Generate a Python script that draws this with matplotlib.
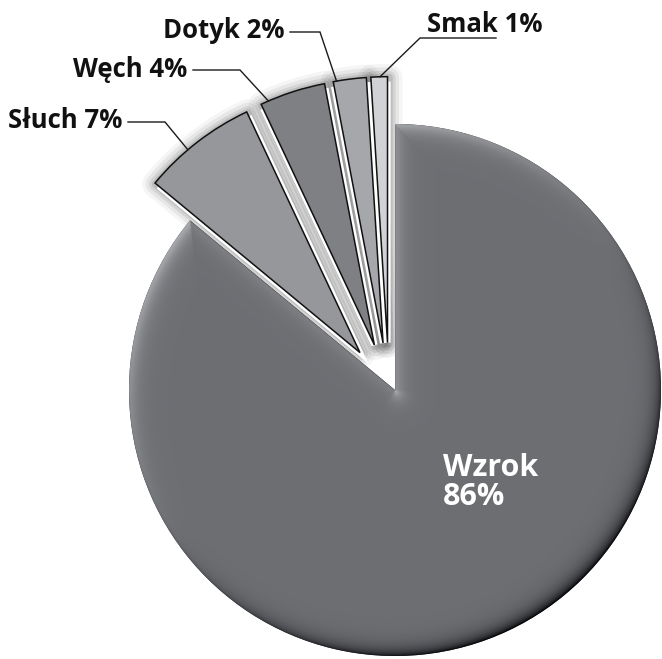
import numpy as np
import matplotlib
matplotlib.use("Agg")
import matplotlib.pyplot as plt
from matplotlib.patches import Wedge

# ---- data ----
labels = ["Wzrok", "Słuch", "Węch", "Dotyk", "Smak"]
values = [86, 7, 4, 2, 1]
colors = ["#6d6e72", "#96979b", "#7f8084", "#a6a7ab", "#d1d2d5"]

# ---- layout (pixels) ----
W, H = 662, 659
cx, cy, R = 395, 390, 266
explode_small = 0.178
shift_small = 6 / R

fig = plt.figure(figsize=(W / 100, H / 100), dpi=100)
ax = fig.add_axes([0, 0, 1, 1])

def px(x, y):
    return ((x - cx) / R, (cy - y) / R)

# main pie (Wzrok at origin)
wedges_main, _ = ax.pie(values, startangle=90, counterclock=False, radius=1,
                        colors=colors, wedgeprops=dict(linewidth=0))
for w in wedges_main[1:]:
    w.remove()
wz = wedges_main[0]
wz.set_facecolor("#2e2f31")
wz.set_zorder(2)

# exploded small slices
explode = [0] + [explode_small] * 4
wedges_small, _ = ax.pie(values, startangle=90, counterclock=False, radius=1,
                         explode=explode, center=(-shift_small, 0), colors=colors,
                         wedgeprops=dict(linewidth=1.1, edgecolor="#111111"))
wedges_small[0].remove()
small = wedges_small[1:]
for w in small:
    w.set_zorder(5)
    # soft shadow glow behind each slice, offset slightly down-right
    for lw, a in [(20, 0.04), (15, 0.06), (10, 0.08), (6, 0.10)]:
        g = Wedge((w.center[0] + 0.004, w.center[1] - 0.004), w.r, w.theta1, w.theta2,
                  facecolor="none", edgecolor=(0, 0, 0, a), linewidth=lw,
                  joinstyle="round", zorder=1)
        ax.add_patch(g)
for w in small:
    wh = Wedge(w.center, w.r * 0.97, w.theta1, w.theta2, facecolor="white",
               edgecolor="white", linewidth=4.5, joinstyle="miter", zorder=3)
    ax.add_patch(wh)

# ---- bevel shading image for Wzrok ----
xmin, xmax = -cx / R, (W - cx) / R
ymin, ymax = -(H - cy) / R, cy / R
nx, ny = 2 * W, 2 * H
xs = np.linspace(xmin, xmax, nx)
ys = np.linspace(ymax, ymin, ny)
X, Y = np.meshgrid(xs, ys)
r = np.hypot(X, Y) + 1e-9
t1, t2 = np.deg2rad(wz.theta1), np.deg2rad(wz.theta2)
d = 1 - r
nxm, nym = X / r, Y / r
for ang in (t1, t2):
    u = np.array([np.cos(ang), np.sin(ang)])
    tproj = X * u[0] + Y * u[1]
    n1 = np.array([u[1], -u[0]])
    side = X * n1[0] + Y * n1[1]
    dist_line = np.abs(side)
    nxl = np.where(side < 0, n1[0], -n1[0])
    nyl = np.where(side < 0, n1[1], -n1[1])
    dl = np.where(tproj >= 0, dist_line, r)
    nxl = np.where(tproj >= 0, nxl, -X / r)
    nyl = np.where(tproj >= 0, nyl, -Y / r)
    m = dl < d
    d = np.where(m, dl, d)
    nxm = np.where(m, nxl, nxm)
    nym = np.where(m, nyl, nym)

L = np.array([-0.55, 0.83])
L = L / np.hypot(*L)
s = nxm * L[0] + nym * L[1]
dd = np.clip(d, 0, None)
f = np.exp(-dd / 0.03)
base = 0.43
amp = np.where(s > 0, 0.30, 0.38)
val = base + s * amp * f
# thin darker rim at the very edge
val = val - 0.06 * np.exp(-dd / 0.004)
val = np.clip(val, 0, 1)
rgb = np.dstack([val, val + 0.004, val + 0.02])
rgb = np.clip(rgb, 0, 1)
im = ax.imshow(rgb, extent=(xmin, xmax, ymin, ymax), zorder=2.5,
               interpolation="bilinear", aspect="auto")
im.set_clip_path(wz)

# ---- labels ----
font = dict(family=["Open Sans", "DejaVu Sans"], fontweight="bold")
label_pos = {"Słuch": (8, 128), "Węch": (73, 77), "Dotyk": (163, 38), "Smak": (427, 32)}
leader = {
    "Słuch": [(128, 122), (165, 122)],
    "Węch": [(193, 70), (240, 70)],
    "Dotyk": [(290, 32), (320, 32)],
    "Smak": [(496, 38), (420, 38)],
}
anchor_frac = {"Słuch": 0.6, "Węch": 0.88, "Dotyk": 0.9, "Smak": 0.45}

for lab, val_, w in zip(labels[1:], values[1:], small):
    x0, y0 = px(*label_pos[lab])
    ax.text(x0, y0, f"{lab} {val_}%", ha="left", va="baseline", fontsize=18.5,
            color="#111111", zorder=10, **font)
    fr = anchor_frac[lab]
    a = np.deg2rad(w.theta1 + fr * (w.theta2 - w.theta1))
    axp = w.center[0] + w.r * np.cos(a)
    ayp = w.center[1] + w.r * np.sin(a)
    pts = [px(*p) for p in leader[lab]] + [(axp, ayp)]
    ax.plot([p[0] for p in pts], [p[1] for p in pts], color="#1a1a1a", lw=1.0,
            zorder=9, solid_joinstyle="miter")

x0, y0 = px(443, 505)
ax.text(x0, y0, f"{labels[0]}\n{values[0]}%", ha="left", va="baseline",
        fontsize=22, color="white", linespacing=0.95, zorder=10, **font)

ax.set_xlim(xmin, xmax)
ax.set_ylim(ymin, ymax)
ax.set_aspect("auto")
ax.axis("off")
fig.savefig("out.png", dpi=100, facecolor="white")
